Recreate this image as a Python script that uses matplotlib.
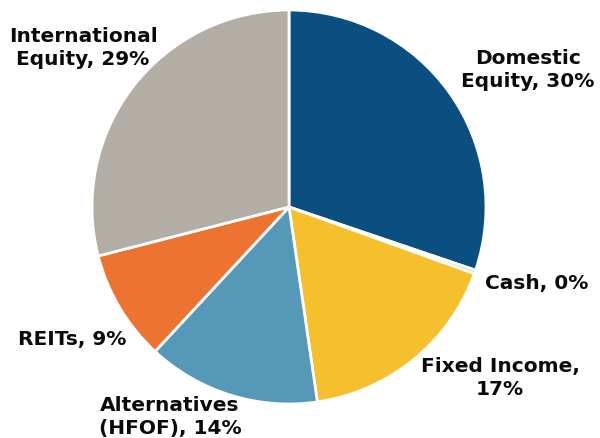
import matplotlib.pyplot as plt

labels = ['Domestic\nEquity, 30%', 'Cash, 0%', 'Fixed Income,\n17%',
          'Alternatives\n(HFOF), 14%', 'REITs, 9%', 'International\nEquity, 29%']
values = [30.2, 0.3, 17.2, 14.2, 9.1, 29.0]
colors = ['#0B4F81', '#A9C89A', '#F6BF2C', '#5598B7', '#EC7430', '#B2ADA5']

# label centres in pixel coords (x, y from top)
label_pos = [(528, 70), (537, 283), (500, 378), (170, 417), (72, 340), (83, 48)]

fig = plt.figure(figsize=(6, 4.39), dpi=100)
ax = fig.add_axes([0, 0, 1, 1])
ax.axis('off')

ax.pie(values, colors=colors, startangle=90, counterclock=False,
       center=(289, 439 - 208), radius=197,
       wedgeprops=dict(edgecolor='white', linewidth=2))
ax.set_xlim(0, 600)
ax.set_ylim(0, 439)
ax.set_aspect('equal')

for lab, (x, y) in zip(labels, label_pos):
    ax.text(x, 439 - y, lab, ha='center', va='center', fontsize=14.5,
            fontweight='bold', color='#0a0a0a', linespacing=1.25,
            family=['DejaVu Sans'])

fig.savefig('out.png', dpi=100)
